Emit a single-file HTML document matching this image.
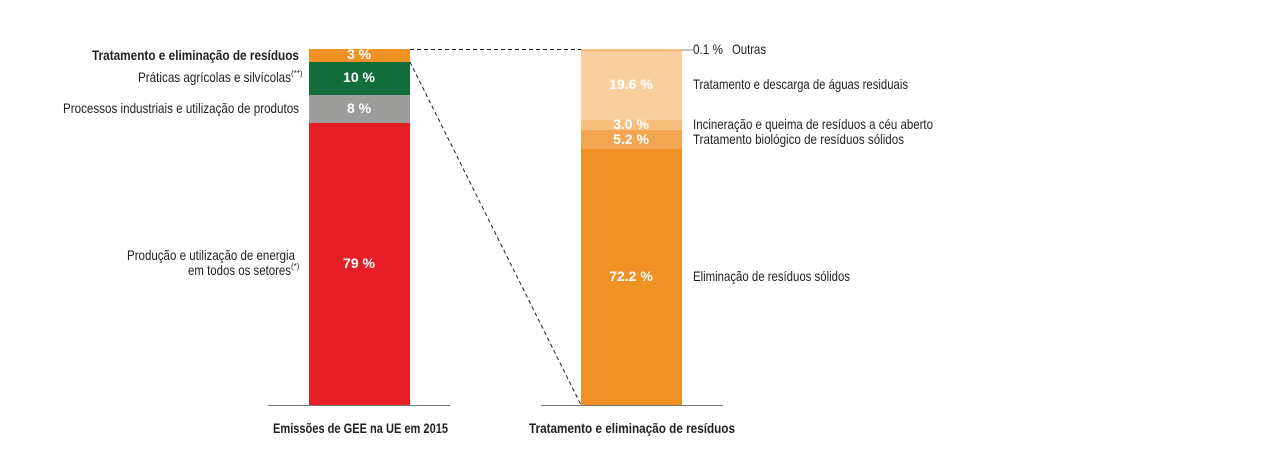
<!DOCTYPE html>
<html><head><meta charset="utf-8"><style>
body{margin:0;background:#fff}
svg text{font-family:"Liberation Sans Narrow","Liberation Sans",sans-serif;font-size:14px;fill:#231f20}
.w{fill:#fff;font-weight:bold}
.s{font-size:8px}
</style></head><body>
<svg width="1283" height="471" viewBox="0 0 1283 471" xmlns="http://www.w3.org/2000/svg">
<rect x="309" y="49" width="101" height="13" fill="#ef9124"/>
<rect x="309" y="62" width="101" height="33" fill="#136d3a"/>
<rect x="309" y="95" width="101" height="28" fill="#9d9d9c"/>
<rect x="309" y="123" width="101" height="282" fill="#e61f26"/>
<rect x="581" y="50" width="101" height="70" fill="#f9cf9f"/>
<rect x="581" y="120" width="101" height="10" fill="#f7bd7a"/>
<rect x="581" y="130" width="101" height="19" fill="#f3a652"/>
<rect x="581" y="149" width="101" height="256" fill="#ef9124"/>
<line x1="581" y1="50" x2="682" y2="50" stroke="#ef9124" stroke-width="1"/>
<line x1="682" y1="50" x2="693" y2="50" stroke="#888" stroke-width="1"/>
<line x1="410" y1="49.5" x2="581" y2="49.5" stroke="#231f20" stroke-dasharray="4,3"/>
<line x1="410" y1="62" x2="581" y2="405" stroke="#231f20" stroke-dasharray="4,3"/>
<line x1="268" y1="405.5" x2="450" y2="405.5" stroke="#777"/>
<line x1="541" y1="405.5" x2="723" y2="405.5" stroke="#777"/>
<g>
<text x="92" y="60" textLength="207" lengthAdjust="spacingAndGlyphs" font-weight="bold">Tratamento e eliminação de resíduos</text>
<text x="138" y="82" textLength="153" lengthAdjust="spacingAndGlyphs">Práticas agrícolas e silvícolas</text>
<text class="s" x="291" y="76">(**)</text>
<text x="63" y="113" textLength="236" lengthAdjust="spacingAndGlyphs">Processos industriais e utilização de produtos</text>
<text x="127" y="260" textLength="168" lengthAdjust="spacingAndGlyphs">Produção e utilização de energia</text>
<text x="188" y="275" textLength="103" lengthAdjust="spacingAndGlyphs">em todos os setores</text>
<text class="s" x="291" y="269">(*)</text>
<text class="w" x="359" y="59" text-anchor="middle">3 %</text>
<text class="w" x="359" y="82" text-anchor="middle">10 %</text>
<text class="w" x="359" y="113" text-anchor="middle">8 %</text>
<text class="w" x="359" y="268" text-anchor="middle">79 %</text>
<text class="w" x="631" y="89" text-anchor="middle">19.6 %</text>
<text class="w" x="631" y="129" text-anchor="middle">3.0 %</text>
<text class="w" x="631" y="144" text-anchor="middle">5.2 %</text>
<text class="w" x="631" y="281" text-anchor="middle">72.2 %</text>
<text x="693" y="54" textLength="30" lengthAdjust="spacingAndGlyphs">0.1 %</text>
<text x="732" y="54" textLength="34" lengthAdjust="spacingAndGlyphs">Outras</text>
<text x="693" y="89" textLength="215" lengthAdjust="spacingAndGlyphs">Tratamento e descarga de águas residuais</text>
<text x="693" y="129" textLength="240" lengthAdjust="spacingAndGlyphs">Incineração e queima de resíduos a céu aberto</text>
<text x="693" y="144" textLength="211" lengthAdjust="spacingAndGlyphs">Tratamento biológico de resíduos sólidos</text>
<text x="693" y="281" textLength="157" lengthAdjust="spacingAndGlyphs">Eliminação de resíduos sólidos</text>
<text x="273" y="433" textLength="175" lengthAdjust="spacingAndGlyphs" font-weight="bold">Emissões de GEE na UE em 2015</text>
<text x="529" y="433" textLength="206" lengthAdjust="spacingAndGlyphs" font-weight="bold">Tratamento e eliminação de resíduos</text>
</g>
</svg>
</body></html>
